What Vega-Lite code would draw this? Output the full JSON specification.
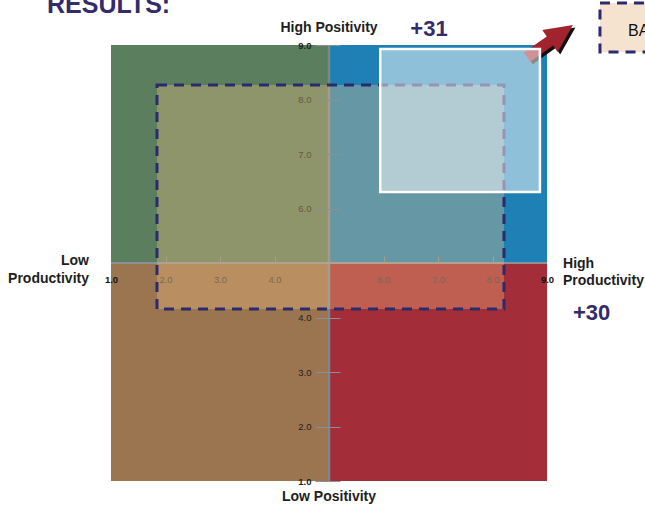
{
  "$schema": "https://vega.github.io/schema/vega-lite/v6.json",
  "width": 436,
  "height": 436,
  "autosize": "none",
  "padding": {"left": 111, "top": 45, "right": 98, "bottom": 27},
  "background": "white",
  "config": {"view": {"stroke": null}, "font": "Liberation Sans"},
  "encoding": {
    "x": {
      "field": "x", "type": "quantitative",
      "scale": {"domain": [1, 9], "nice": false, "zero": false},
      "axis": {
        "orient": "bottom", "offset": -218, "title": null, "domain": false, "grid": false,
        "values": [1, 2, 3, 4, 6, 7, 8, 9], "format": ".1f",
        "tickSize": -7, "tickColor": "#a89e88", "tickWidth": 1,
        "tickOpacity": {"condition": {"test": "datum.value == 1 || datum.value == 9", "value": 0}, "value": 1},
        "labelPadding": 18.5, "labelFont": "Liberation Sans", "labelFontSize": 9.5,
        "labelFlush": false, "labelOverlap": false,
        "labelColor": {"condition": {"test": "datum.value == 1 || datum.value == 9", "value": "#111111"}, "value": "#7a6852"},
        "labelFontWeight": {"condition": {"test": "datum.value == 1 || datum.value == 9", "value": "bold"}, "value": "normal"},
        "zindex": 1
      }
    },
    "y": {
      "field": "y", "type": "quantitative",
      "scale": {"domain": [1, 9], "nice": false, "zero": false},
      "axis": {
        "orient": "left", "offset": -229, "title": null, "domain": false, "grid": false,
        "values": [1, 2, 3, 4, 6, 7, 8, 9], "format": ".1f",
        "tickSize": 25, "tickColor": "#8c9094", "tickWidth": 1,
        "labelPadding": 4, "labelFont": "Liberation Sans", "labelFontSize": 9.5,
        "labelFlush": false, "labelOverlap": false,
        "labelColor": {"condition": {"test": "datum.value >= 6 && datum.value <= 8", "value": "#65583f"}, "value": "#222222"},
        "labelFontWeight": {"condition": {"test": "datum.value == 1 || datum.value == 9", "value": "bold"}, "value": "normal"},
        "zindex": 1
      }
    }
  },
  "layer": [
    {
      "data": {"values": [
        {"q": "TL", "x": 1, "x2": 5, "y": 5, "y2": 9},
        {"q": "TR", "x": 5, "x2": 9, "y": 5, "y2": 9},
        {"q": "BL", "x": 1, "x2": 5, "y": 1, "y2": 5},
        {"q": "BR", "x": 5, "x2": 9, "y": 1, "y2": 5}
      ]},
      "mark": {"type": "rect", "opacity": 1},
      "encoding": {
        "x2": {"field": "x2"},
        "y2": {"field": "y2"},
        "color": {"field": "q", "type": "nominal", "legend": null,
          "scale": {"domain": ["TL", "TR", "BL", "BR"], "range": ["#5b7e5e", "#1e80b5", "#9a754f", "#a32e39"]}}
      }
    },
    {
      "data": {"values": [{"x": 5, "y": 1, "y2": 9}]},
      "mark": {"type": "rule", "color": "#7c878d", "strokeWidth": 2.5},
      "encoding": {"y2": {"field": "y2"}}
    },
    {
      "data": {"values": [{"x": 1, "x2": 9, "y": 5}]},
      "mark": {"type": "rule", "color": "#8a9296", "strokeWidth": 2},
      "encoding": {"x2": {"field": "x2"}}
    },
    {
      "data": {"values": [{"x": 1.844, "x2": 8.211, "y": 4.156, "y2": 8.266}]},
      "mark": {"type": "rect", "fill": "#fac687", "fillOpacity": 0.33, "stroke": "#2d2a6b", "strokeWidth": 3, "strokeDash": [10, 7]},
      "encoding": {"x2": {"field": "x2"}, "y2": {"field": "y2"}}
    },
    {
      "data": {"values": [{"x": 9.055, "y": 9.073}]},
      "mark": {"type": "point", "filled": true, "color": "#111111", "opacity": 1, "size": 3136, "angle": -35, "xOffset": 2.5, "yOffset": 2.5,
        "shape": "M -1 -0.2 L 0 -0.2 L 0 -0.48 L 1 0 L 0 0.48 L 0 0.2 L -1 0.2 Z"}
    },
    {
      "data": {"values": [{"x": 9.055, "y": 9.073}]},
      "mark": {"type": "point", "filled": true, "color": "#a1232e", "opacity": 1, "size": 3136, "angle": -35,
        "shape": "M -1 -0.2 L 0 -0.2 L 0 -0.48 L 1 0 L 0 0.48 L 0 0.2 L -1 0.2 Z"}
    },
    {
      "data": {"values": [{"x": 5.94, "x2": 8.87, "y": 6.303, "y2": 8.927}]},
      "mark": {"type": "rect", "fill": "#ffffff", "fillOpacity": 0.5, "stroke": "#ffffff", "strokeWidth": 2.5},
      "encoding": {"x2": {"field": "x2"}, "y2": {"field": "y2"}}
    },
    {
      "data": {"values": [{"x": 9.972, "x2": 12.5, "y": 8.872, "y2": 9.771}]},
      "mark": {"type": "rect", "fill": "#f6e3cf", "stroke": "#2d2a6b", "strokeWidth": 3, "strokeDash": [10, 7]},
      "encoding": {"x2": {"field": "x2"}, "y2": {"field": "y2"}}
    },
    {
      "data": {"values": [{"x": 10.486, "y": 9.165, "label": "BASELINE"}]},
      "mark": {"type": "text", "align": "left", "baseline": "alphabetic", "font": "Liberation Sans", "fontSize": 16, "color": "#111111"},
      "encoding": {"text": {"field": "label"}}
    },
    {
      "data": {"values": [{"x": -0.174, "y": 9.587, "label": "RESULTS:"}]},
      "mark": {"type": "text", "align": "left", "baseline": "alphabetic", "font": "Liberation Sans", "fontSize": 25, "fontWeight": "bold", "color": "#342b6b"},
      "encoding": {"text": {"field": "label"}}
    },
    {
      "data": {"values": [{"x": 6.835, "y": 9.165, "label": "+31"}]},
      "mark": {"type": "text", "align": "center", "baseline": "alphabetic", "font": "Liberation Sans", "fontSize": 22, "fontWeight": "bold", "color": "#342b6b"},
      "encoding": {"text": {"field": "label"}}
    },
    {
      "data": {"values": [{"x": 9.477, "y": 3.954, "label": "+30"}]},
      "mark": {"type": "text", "align": "left", "baseline": "alphabetic", "font": "Liberation Sans", "fontSize": 22, "fontWeight": "bold", "color": "#342b6b"},
      "encoding": {"text": {"field": "label"}}
    },
    {
      "data": {"values": [
        {"x": 5, "y": 9.239, "label": "High Positivity"},
        {"x": 5, "y": 0.633, "label": "Low Positivity"}
      ]},
      "mark": {"type": "text", "align": "center", "baseline": "alphabetic", "font": "Liberation Sans", "fontSize": 14, "fontWeight": "bold", "color": "#1e1e1e"},
      "encoding": {"text": {"field": "label"}}
    },
    {
      "data": {"values": [
        {"x": 0.596, "y": 4.963, "label": "Low"},
        {"x": 0.596, "y": 4.633, "label": "Productivity"}
      ]},
      "mark": {"type": "text", "align": "right", "baseline": "alphabetic", "font": "Liberation Sans", "fontSize": 14, "fontWeight": "bold", "color": "#1e1e1e"},
      "encoding": {"text": {"field": "label"}}
    },
    {
      "data": {"values": [
        {"x": 9.294, "y": 4.908, "label": "High"},
        {"x": 9.294, "y": 4.596, "label": "Productivity"}
      ]},
      "mark": {"type": "text", "align": "left", "baseline": "alphabetic", "font": "Liberation Sans", "fontSize": 14, "fontWeight": "bold", "color": "#1e1e1e"},
      "encoding": {"text": {"field": "label"}}
    }
  ]
}
